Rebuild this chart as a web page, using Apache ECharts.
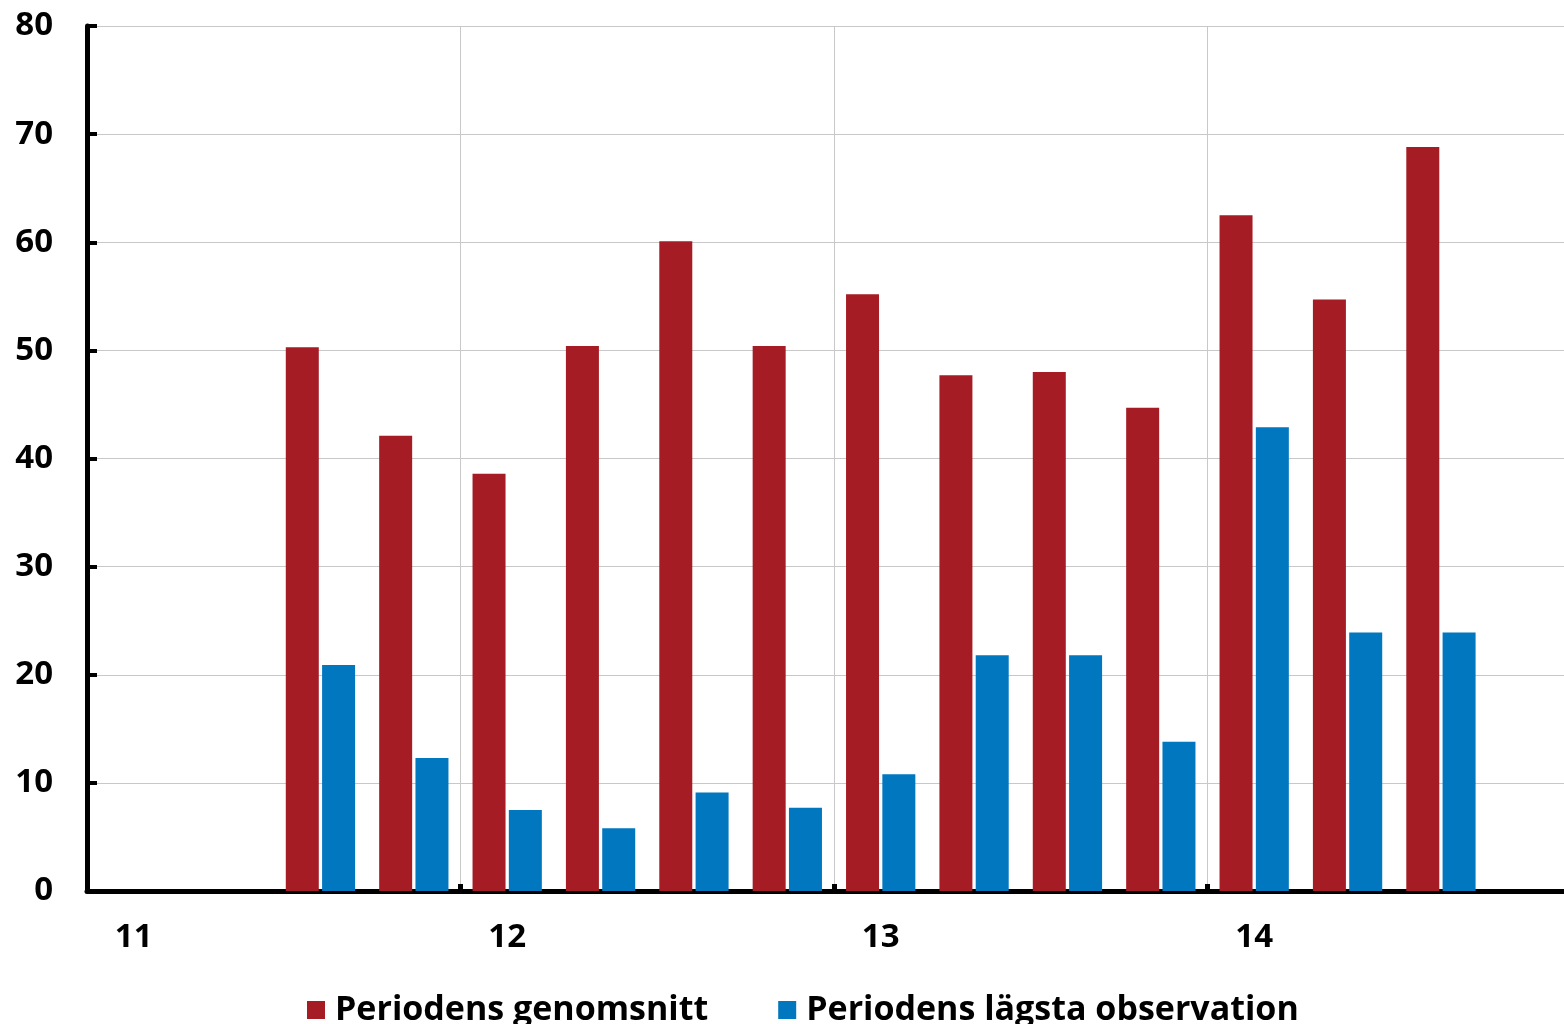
<!DOCTYPE html>
<html>
<head>
<meta charset="utf-8">
<script src="https://cdn.jsdelivr.net/npm/echarts@6/dist/echarts.min.js"></script>
<style>html,body{margin:0;padding:0;background:#fff;overflow:hidden;width:1564px;height:1024px;}#c{width:1581px;height:1024px;}</style>
</head>
<body>
<div id="c"></div>
<script>
const categories = ['11 K1','11 K2','11 K3','11 K4','12 K1','12 K2','12 K3','12 K4','13 K1','13 K2','13 K3','13 K4','14 K1','14 K2','14 K3','14 K4'];
const seriesNames = ['Periodens genomsnitt', 'Periodens lägsta observation'];
const averageValues = [null, null, 50.3, 42.1, 38.6, 50.4, 60.1, 50.4, 55.2, 47.7, 48.0, 44.7, 62.5, 54.7, 68.8, null];
const lowestValues = [null, null, 20.9, 12.3, 7.5, 5.8, 9.1, 7.7, 10.8, 21.8, 21.8, 13.8, 42.9, 23.9, 23.9, null];

const FONT = '"Open Sans", "Noto Sans", sans-serif';
const chart = echarts.init(document.getElementById('c'));
chart.setOption({
  animation: false,
  backgroundColor: '#ffffff',
  grid: { left: 87, right: 0, top: 26, bottom: 133, containLabel: false },
  legend: {
    left: 302, top: 988,
    icon: 'rect', itemWidth: 18, itemHeight: 18, itemGap: 70,
    textStyle: { fontFamily: FONT, fontWeight: 'bold', fontSize: 34, color: '#000', padding: [0, 0, 0, 5] },
    data: seriesNames
  },
  xAxis: {
    type: 'category',
    data: categories,
    boundaryGap: true,
    axisLine: { lineStyle: { color: '#000', width: 5 } },
    axisTick: { show: true, inside: true, length: 7, interval: (i) => i % 4 === 0, lineStyle: { color: '#000', width: 5 } },
    splitLine: { show: true, interval: (i) => i % 4 === 0, lineStyle: { color: '#c8c8c8', width: 1 } },
    axisLabel: {
      interval: (i) => i % 4 === 0,
      formatter: (v) => v.split(' ')[0],
      margin: 30,
      fontFamily: FONT, fontWeight: 'bold', fontSize: 33, color: '#000'
    }
  },
  yAxis: {
    type: 'value', min: 0, max: 80, interval: 10,
    axisLine: { show: true, lineStyle: { color: '#000', width: 5 } },
    axisTick: { show: true, inside: true, length: 10, lineStyle: { color: '#000', width: 4 } },
    splitLine: { show: true, lineStyle: { color: '#c8c8c8', width: 1 } },
    axisLabel: { margin: 34, fontFamily: FONT, fontWeight: 'bold', fontSize: 33, color: '#000' }
  },
  series: [
    { name: seriesNames[0], type: 'bar', data: averageValues, barWidth: 33, barGap: '10%', itemStyle: { color: '#a51c24' } },
    { name: seriesNames[1], type: 'bar', data: lowestValues, barWidth: 33, barGap: '10%', itemStyle: { color: '#0077be' } }
  ]
});
</script>
</body>
</html>
